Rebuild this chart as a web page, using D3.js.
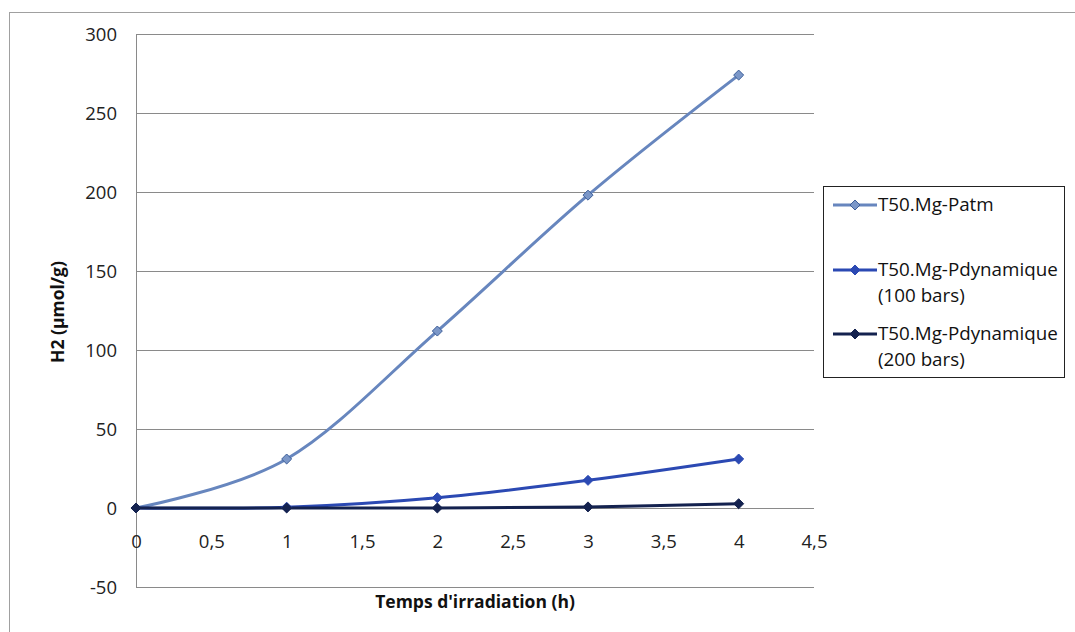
<!DOCTYPE html>
<html><head><meta charset="utf-8">
<script src="https://cdn.jsdelivr.net/npm/d3@7"></script>
<style>body{margin:0;background:#fff}svg{display:block}text{font-family:"Open Sans",Lato,sans-serif}</style>
</head><body><svg id="c" width="1075" height="632"></svg>
<script>
const xValues = [0, 1, 2, 3, 4];
const seriesNames = ["T50.Mg-Patm", "T50.Mg-Pdynamique|(100 bars)", "T50.Mg-Pdynamique|(200 bars)"];
const patm = [0, 31, 112, 198, 274];
const p100 = [0, 0.5, 6.5, 17.5, 31];
const p200 = [0, 0, 0, 0.7, 2.7];
const yTicks = [-50, 0, 50, 100, 150, 200, 250, 300];
const xTicks = [0, 0.5, 1, 1.5, 2, 2.5, 3, 3.5, 4, 4.5];
const colors = ["#6786be", "#2b49b3", "#14224f"];
const markerFill = ["#7b97c8", "#2b49b3", "#14224f"];
const allSeries = [patm, p100, p200];
const FONT = "'Open Sans',Lato,sans-serif";

const svg = d3.select("#c");
svg.append("rect").attr("x", 9.5).attr("y", 12.5).attr("width", 1080).attr("height", 640)
  .attr("fill", "#fff").attr("stroke", "#a0a0a0").attr("stroke-width", 1);

const x = d3.scaleLinear().domain([0, 4.5]).range([136, 814]);
const y = d3.scaleLinear().domain([-50, 300]).range([587, 34]);

svg.append("g").selectAll("line").data(yTicks).join("line")
  .attr("x1", x(0)).attr("x2", x(4.5))
  .attr("y1", d => Math.round(y(d)) + 0.5).attr("y2", d => Math.round(y(d)) + 0.5)
  .attr("stroke", "#8a8a8a").attr("stroke-width", 1);
svg.append("line").attr("x1", x(0) + 0.5).attr("x2", x(0) + 0.5).attr("y1", y(300)).attr("y2", y(-50))
  .attr("stroke", "#8a8a8a");

const yAxis = d3.axisLeft(y).tickValues(yTicks).tickSize(0).tickPadding(19).tickFormat(d => String(d));
const gy = svg.append("g").attr("transform", `translate(${x(0)},0)`).call(yAxis);
gy.select(".domain").remove();
gy.selectAll("text").attr("font-size", 18.5).attr("fill", "#222").attr("font-family", FONT).attr("dy", "0.36em");

const xAxis = d3.axisBottom(x).tickValues(xTicks).tickSize(0)
  .tickFormat(d => String(d).replace(".", ","));
const gx = svg.append("g").attr("transform", `translate(0,${y(0)})`).call(xAxis);
gx.select(".domain").remove();
gx.selectAll("text").attr("font-size", 18.5).attr("fill", "#222").attr("font-family", FONT)
  .attr("y", 40).attr("dy", 0);

const line = d3.line().x((d, i) => x(xValues[i])).y(d => y(d)).curve(d3.curveCatmullRom.alpha(0));
[0, 1, 2].forEach(s => {
  svg.append("path").datum(allSeries[s]).attr("d", line).attr("fill", "none")
    .attr("stroke", colors[s]).attr("stroke-width", 3);
});
const diamond = d3.symbol().type(d3.symbolDiamond2).size(64);
[0, 1, 2].forEach(s => {
  svg.append("g").selectAll("path").data(allSeries[s]).join("path")
    .attr("d", diamond)
    .attr("transform", (d, i) => `translate(${x(xValues[i])},${y(d)})`)
    .attr("fill", markerFill[s]).attr("stroke", s === 0 ? "#3d5f99" : colors[s]).attr("stroke-width", 1);
});

svg.append("text").attr("x", 475).attr("y", 608).attr("text-anchor", "middle")
  .attr("font-size", 17.5).attr("font-weight", "bold").attr("fill", "#111").text("Temps d'irradiation (h)");
svg.append("text").attr("transform", "translate(64,312) rotate(-90)").attr("text-anchor", "middle")
  .attr("font-size", 17.5).attr("font-weight", "bold").attr("fill", "#111").text("H2 (µmol/g)");

svg.append("rect").attr("x", 823.5).attr("y", 186.5).attr("width", 241).attr("height", 191)
  .attr("fill", "#fff").attr("stroke", "#222").attr("stroke-width", 1);
const legY = [205, 270, 334];
seriesNames.forEach((name, s) => {
  const g = svg.append("g");
  g.append("line").attr("x1", 833).attr("x2", 877).attr("y1", legY[s]).attr("y2", legY[s])
    .attr("stroke", colors[s]).attr("stroke-width", 3);
  g.append("path").attr("d", diamond).attr("transform", `translate(855,${legY[s]})`)
    .attr("fill", markerFill[s]).attr("stroke", s === 0 ? "#3d5f99" : colors[s]);
  name.split("|").forEach((p, k) => {
    g.append("text").attr("x", 878).attr("y", legY[s] + 6 + k * 26).attr("font-size", 18.8)
      .attr("fill", "#111").text(p);
  });
});
</script></body></html>
